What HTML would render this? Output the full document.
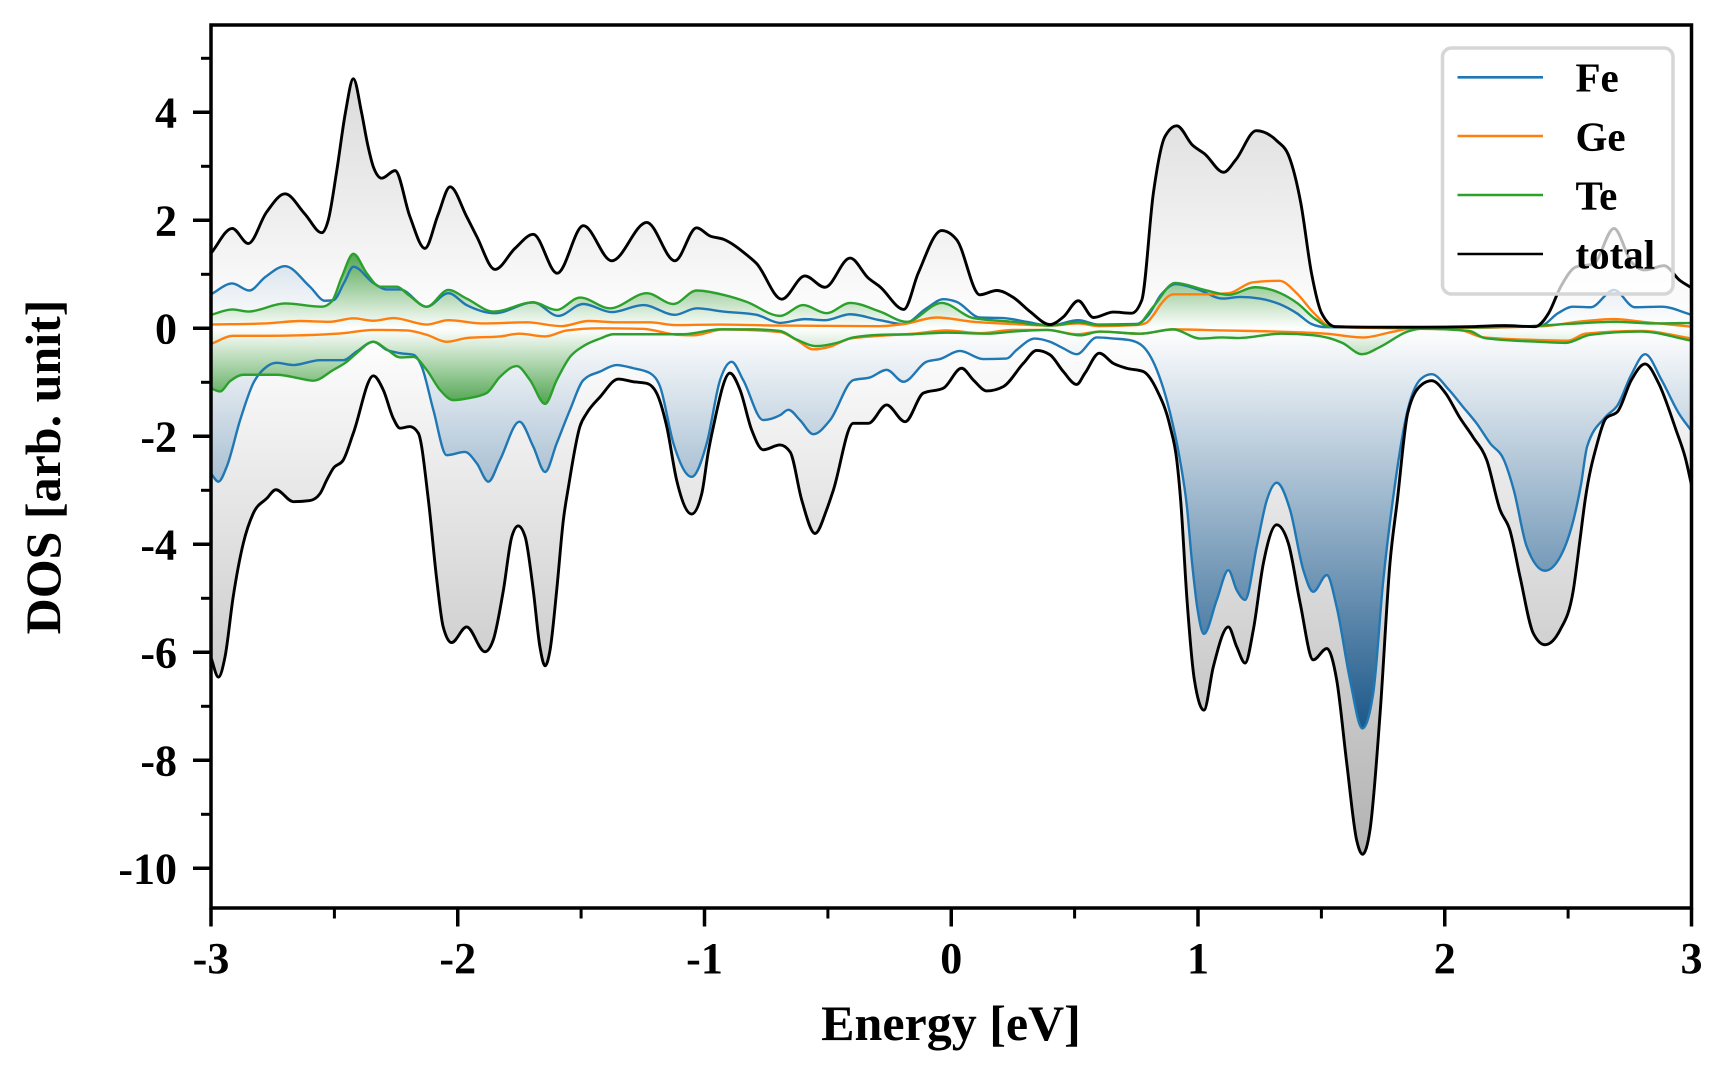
<!DOCTYPE html>
<html>
<head>
<meta charset="utf-8">
<style>
html,body{margin:0;padding:0;background:#fff;}
svg{display:block;}
text{font-family:"Liberation Serif","Times New Roman",serif;font-weight:bold;fill:#000;}
</style>
</head>
<body>
<svg xmlns="http://www.w3.org/2000/svg" width="1728" height="1080" viewBox="0 0 1728 1080">
<defs>
  <clipPath id="clip"><rect x="211" y="25" width="1480.5" height="883"/></clipPath>
  <linearGradient id="gGU" gradientUnits="userSpaceOnUse" x1="0" y1="0" x2="0" y2="10"><stop offset="0" stop-color="#ffffff"/><stop offset="1" stop-color="#b0b0b0"/></linearGradient>
  <linearGradient id="gGD" gradientUnits="userSpaceOnUse" x1="0" y1="0" x2="0" y2="-10"><stop offset="0" stop-color="#ffffff"/><stop offset="1" stop-color="#b0b0b0"/></linearGradient>
  <linearGradient id="gBU" gradientUnits="userSpaceOnUse" x1="0" y1="0" x2="0" y2="7.4"><stop offset="0" stop-color="#ffffff"/><stop offset="1" stop-color="rgb(28,88,138)"/></linearGradient>
  <linearGradient id="gBD" gradientUnits="userSpaceOnUse" x1="0" y1="0" x2="0" y2="-7.4"><stop offset="0" stop-color="#ffffff"/><stop offset="1" stop-color="rgb(28,88,138)"/></linearGradient>
  <linearGradient id="gTU" gradientUnits="userSpaceOnUse" x1="0" y1="0" x2="0" y2="1.4"><stop offset="0" stop-color="#ffffff"/><stop offset="1" stop-color="rgb(80,165,80)"/></linearGradient>
  <linearGradient id="gTD" gradientUnits="userSpaceOnUse" x1="0" y1="0" x2="0" y2="-1.4"><stop offset="0" stop-color="#ffffff"/><stop offset="1" stop-color="rgb(80,165,80)"/></linearGradient>

  <path id="TU" class="c" vector-effect="non-scaling-stroke" d="M0,0 L0,1.39 0.086,1.85 0.151,1.57 0.225,2.15 0.3,2.49 0.38,2.12 0.449,1.77 0.475,2.0 0.51,2.93 0.545,4.0 0.577,4.62 0.61,4.0 0.635,3.4 0.658,2.99 0.692,2.78 0.746,2.92 0.806,2.07 0.867,1.48 0.92,2.1 0.969,2.62 1.036,2.07 1.077,1.7 1.151,1.09 1.232,1.48 1.306,1.74 1.403,1.02 1.509,1.9 1.624,1.25 1.766,1.96 1.88,1.25 1.968,1.86 2.022,1.71 2.076,1.65 2.171,1.36 2.211,1.2 2.313,0.54 2.407,0.97 2.488,0.76 2.59,1.3 2.664,0.93 2.711,0.77 2.808,0.35 2.866,1.02 2.961,1.81 3.022,1.64 3.116,0.62 3.184,0.7 3.252,0.57 3.319,0.31 3.4,0.07 3.454,0.21 3.515,0.51 3.576,0.2 3.657,0.3 3.731,0.28 3.772,0.52 3.819,2.5 3.866,3.55 3.914,3.75 3.978,3.39 4.027,3.23 4.104,2.89 4.153,3.12 4.236,3.66 4.32,3.47 4.369,3.18 4.417,2.31 4.46,1.02 4.501,0.28 4.557,0.03 4.7,0.02 4.9,0.02 5.1,0.03 5.24,0.05 5.366,0.03 5.421,0.28 5.47,0.77 5.533,1.14 5.602,1.19 5.686,1.85 5.756,1.23 5.812,1.08 5.889,1.16 5.952,0.89 6,0.75 6,0"/>
  <path id="TD" class="c" vector-effect="non-scaling-stroke" d="M0,0 L0,-6.1 0.03,-6.46 0.057,-6.08 0.09,-4.97 0.131,-3.98 0.171,-3.43 0.226,-3.15 0.263,-2.99 0.334,-3.21 0.401,-3.19 0.442,-3.06 0.469,-2.81 0.496,-2.59 0.536,-2.44 0.577,-1.94 0.658,-0.88 0.698,-1.14 0.739,-1.67 0.766,-1.85 0.806,-1.82 0.84,-1.94 0.881,-3.18 0.915,-4.66 0.941,-5.53 0.975,-5.82 1.036,-5.53 1.11,-5.99 1.144,-5.77 1.185,-4.85 1.219,-3.86 1.245,-3.66 1.273,-3.86 1.306,-4.85 1.333,-5.9 1.354,-6.25 1.374,-5.96 1.401,-4.85 1.428,-3.55 1.45,-2.9 1.495,-1.82 1.523,-1.57 1.577,-1.27 1.651,-0.94 1.712,-0.99 1.766,-1.02 1.806,-1.2 1.847,-1.82 1.887,-2.81 1.948,-3.44 1.989,-3.06 2.015,-2.3 2.036,-1.82 2.103,-0.83 2.144,-1.14 2.191,-1.88 2.238,-2.25 2.306,-2.16 2.347,-2.29 2.394,-3.18 2.448,-3.8 2.495,-3.36 2.522,-3.0 2.603,-1.76 2.664,-1.76 2.738,-1.42 2.813,-1.73 2.887,-1.2 2.968,-1.11 3.042,-0.74 3.09,-0.96 3.144,-1.16 3.211,-1.08 3.292,-0.65 3.346,-0.41 3.4,-0.49 3.454,-0.8 3.508,-1.04 3.542,-0.83 3.6,-0.46 3.657,-0.65 3.711,-0.74 3.778,-0.8 3.833,-1.14 3.887,-1.82 3.914,-2.44 3.93,-3.2 3.955,-5.0 3.985,-6.5 4.024,-7.07 4.062,-6.27 4.123,-5.53 4.157,-5.9 4.191,-6.2 4.224,-5.59 4.265,-4.35 4.319,-3.64 4.366,-3.98 4.414,-5.09 4.467,-6.14 4.522,-5.93 4.562,-6.51 4.603,-8.06 4.643,-9.48 4.667,-9.74 4.697,-9.29 4.738,-7.13 4.778,-4.35 4.808,-3.18 4.85,-1.57 4.905,-1.05 4.947,-0.97 5.003,-1.2 5.059,-1.64 5.114,-2.01 5.17,-2.44 5.224,-3.36 5.264,-3.74 5.305,-4.6 5.359,-5.65 5.406,-5.86 5.467,-5.59 5.521,-4.85 5.548,-3.92 5.569,-3.18 5.618,-2.13 5.653,-1.67 5.701,-1.54 5.756,-0.96 5.812,-0.66 5.867,-1.02 5.937,-1.88 5.975,-2.4 6,-2.9 6,0"/>
  <path id="FU" class="c" vector-effect="non-scaling-stroke" d="M0,0 L0,0.63 0.086,0.83 0.155,0.7 0.22,0.95 0.3,1.15 0.401,0.77 0.462,0.51 0.496,0.52 0.54,0.85 0.577,1.14 0.658,0.84 0.712,0.72 0.766,0.72 0.874,0.4 0.962,0.65 1.036,0.43 1.151,0.28 1.306,0.48 1.407,0.23 1.509,0.45 1.624,0.3 1.752,0.43 1.88,0.25 1.968,0.37 2.076,0.31 2.211,0.25 2.306,0.1 2.407,0.17 2.488,0.15 2.59,0.26 2.711,0.15 2.806,0.08 2.9,0.37 2.968,0.54 3.022,0.49 3.116,0.2 3.211,0.19 3.306,0.12 3.4,0.05 3.515,0.15 3.596,0.07 3.752,0.08 3.8,0.25 3.85,0.62 3.91,0.82 4.0,0.72 4.1,0.55 4.17,0.58 4.25,0.55 4.33,0.45 4.4,0.28 4.46,0.08 4.52,0.02 4.8,0.01 5.1,0.01 5.39,0.05 5.459,0.28 5.52,0.4 5.591,0.39 5.686,0.71 5.77,0.39 5.879,0.4 6,0.25 6,0"/>
  <path id="FD" class="c" vector-effect="non-scaling-stroke" d="M0,0 L0,-2.69 0.03,-2.84 0.064,-2.56 0.118,-1.7 0.171,-1.02 0.226,-0.71 0.266,-0.64 0.334,-0.68 0.442,-0.59 0.536,-0.59 0.59,-0.43 0.658,-0.25 0.712,-0.4 0.766,-0.46 0.82,-0.49 0.854,-0.71 0.901,-1.51 0.955,-2.35 1.029,-2.29 1.077,-2.5 1.124,-2.84 1.171,-2.44 1.25,-1.73 1.306,-2.19 1.354,-2.66 1.401,-2.13 1.455,-1.51 1.509,-0.96 1.577,-0.8 1.644,-0.68 1.712,-0.74 1.779,-0.83 1.82,-1.08 1.874,-2.13 1.948,-2.75 2.009,-2.13 2.063,-0.96 2.11,-0.62 2.157,-0.96 2.238,-1.7 2.306,-1.61 2.34,-1.51 2.387,-1.7 2.441,-1.96 2.509,-1.7 2.603,-0.96 2.671,-0.91 2.738,-0.77 2.806,-0.99 2.9,-0.62 2.954,-0.57 3.035,-0.42 3.13,-0.57 3.224,-0.56 3.265,-0.4 3.339,-0.19 3.4,-0.25 3.454,-0.37 3.508,-0.48 3.59,-0.17 3.657,-0.19 3.725,-0.22 3.778,-0.34 3.833,-0.77 3.887,-1.57 3.927,-2.44 3.955,-3.3 3.975,-4.3 3.998,-5.2 4.024,-5.66 4.076,-5.03 4.123,-4.48 4.157,-4.85 4.191,-5.03 4.238,-4.04 4.279,-3.18 4.319,-2.86 4.373,-3.36 4.427,-4.48 4.467,-4.88 4.522,-4.57 4.562,-5.16 4.616,-6.51 4.666,-7.41 4.71,-6.76 4.751,-4.66 4.792,-3.1 4.85,-1.51 4.905,-0.93 4.947,-0.85 5.017,-1.14 5.073,-1.45 5.129,-1.76 5.184,-2.13 5.24,-2.44 5.28,-3.0 5.332,-4.04 5.406,-4.49 5.481,-4.11 5.528,-3.43 5.552,-2.9 5.577,-2.19 5.652,-1.64 5.701,-1.42 5.756,-0.86 5.812,-0.48 5.879,-0.96 5.948,-1.57 6,-1.9 6,0"/>
  <path id="GU" class="c" vector-effect="non-scaling-stroke" d="M0,0 L0,0.07 0.22,0.09 0.361,0.135 0.48,0.12 0.577,0.185 0.658,0.14 0.74,0.19 0.874,0.07 0.962,0.15 1.1,0.09 1.28,0.11 1.42,0.04 1.53,0.135 1.65,0.11 1.78,0.11 1.88,0.06 2.063,0.07 2.306,0.05 2.711,0.04 2.81,0.08 2.94,0.2 3.09,0.12 3.25,0.08 3.4,0.05 3.515,0.09 3.6,0.04 3.75,0.06 3.79,0.1 3.82,0.25 3.85,0.45 3.9,0.63 4.03,0.63 4.125,0.65 4.22,0.85 4.33,0.88 4.4,0.65 4.47,0.28 4.54,0.03 4.8,0.0 5.1,0.01 5.4,0.04 5.54,0.12 5.686,0.17 5.8,0.12 6,0.03 6,0"/>
  <path id="GD" class="c" vector-effect="non-scaling-stroke" d="M0,0 L0,-0.29 0.09,-0.14 0.226,-0.14 0.361,-0.13 0.536,-0.09 0.658,-0.03 0.793,-0.04 0.874,-0.12 0.955,-0.25 1.036,-0.18 1.171,-0.15 1.25,-0.1 1.354,-0.15 1.442,-0.04 1.577,0 1.75,-0.01 1.887,-0.12 1.955,-0.13 2.076,-0.02 2.306,-0.07 2.374,-0.22 2.441,-0.39 2.509,-0.34 2.59,-0.19 2.711,-0.14 2.846,-0.1 2.981,-0.04 3.116,-0.09 3.252,-0.03 3.387,-0.03 3.508,-0.11 3.603,-0.06 3.765,-0.1 3.9,-0.02 4.1,-0.04 4.38,-0.07 4.52,-0.1 4.669,-0.17 4.794,-0.06 4.86,-0.01 5.05,-0.02 5.16,-0.17 5.4,-0.22 5.5,-0.23 5.57,-0.1 5.8,-0.05 6,-0.19 6,0"/>
  <path id="EU" class="c" vector-effect="non-scaling-stroke" d="M0,0 L0,0.25 0.086,0.35 0.151,0.31 0.3,0.46 0.449,0.4 0.49,0.5 0.53,0.95 0.577,1.38 0.631,1.02 0.685,0.77 0.752,0.77 0.8,0.62 0.874,0.4 0.962,0.71 1.036,0.55 1.145,0.31 1.306,0.48 1.4,0.34 1.496,0.57 1.617,0.37 1.766,0.65 1.874,0.45 1.968,0.7 2.076,0.62 2.171,0.49 2.306,0.23 2.4,0.43 2.495,0.28 2.59,0.47 2.711,0.31 2.819,0.12 2.961,0.47 3.089,0.19 3.252,0.12 3.4,0.05 3.515,0.11 3.603,0.06 3.752,0.07 3.819,0.4 3.907,0.84 4.027,0.71 4.125,0.62 4.23,0.76 4.334,0.65 4.404,0.46 4.473,0.18 4.53,0.04 4.9,0.01 5.3,0.03 5.5,0.08 5.69,0.12 5.85,0.09 6,0.1 6,0"/>
  <path id="ED" class="c" vector-effect="non-scaling-stroke" d="M0,0 L0,-1.11 0.036,-1.17 0.077,-0.98 0.131,-0.86 0.266,-0.86 0.361,-0.93 0.415,-0.97 0.496,-0.77 0.55,-0.62 0.59,-0.46 0.658,-0.25 0.712,-0.39 0.766,-0.54 0.82,-0.53 0.874,-0.77 0.928,-1.14 0.982,-1.33 1.036,-1.3 1.117,-1.2 1.171,-0.9 1.239,-0.7 1.293,-0.96 1.354,-1.4 1.401,-0.96 1.455,-0.53 1.509,-0.33 1.577,-0.19 1.631,-0.11 1.779,-0.11 1.914,-0.11 2.063,-0.02 2.2,-0.02 2.306,-0.05 2.374,-0.21 2.455,-0.33 2.536,-0.27 2.603,-0.17 2.711,-0.12 2.846,-0.11 2.981,-0.08 3.144,-0.1 3.252,-0.06 3.387,-0.03 3.522,-0.13 3.603,-0.06 3.765,-0.1 3.9,-0.02 4.008,-0.19 4.1,-0.17 4.165,-0.18 4.336,-0.1 4.47,-0.13 4.585,-0.27 4.665,-0.48 4.74,-0.34 4.85,-0.06 4.905,-0.01 5.1,-0.05 5.161,-0.18 5.38,-0.25 5.49,-0.27 5.589,-0.12 5.795,-0.06 6,-0.23 6,0"/>
</defs>

<g clip-path="url(#clip)">
 <g transform="translate(211,328.3) scale(246.75,-54)">
  <use href="#TU" fill="url(#gGU)" stroke="none"/>
  <use href="#TD" fill="url(#gGD)" stroke="none"/>
  <use href="#FU" fill="url(#gBU)" stroke="none"/>
  <use href="#FD" fill="url(#gBD)" stroke="none"/>
  <use href="#EU" fill="url(#gTU)" stroke="none"/>
  <use href="#ED" fill="url(#gTD)" stroke="none"/>
  <use href="#FU" fill="none" stroke="#1f77b4" stroke-width="2.4" stroke-linejoin="round"/>
  <use href="#FD" fill="none" stroke="#1f77b4" stroke-width="2.4" stroke-linejoin="round"/>
  <use href="#GU" fill="none" stroke="#ff7f0e" stroke-width="2.4" stroke-linejoin="round"/>
  <use href="#GD" fill="none" stroke="#ff7f0e" stroke-width="2.4" stroke-linejoin="round"/>
  <use href="#EU" fill="none" stroke="#2ca02c" stroke-width="2.4" stroke-linejoin="round"/>
  <use href="#ED" fill="none" stroke="#2ca02c" stroke-width="2.4" stroke-linejoin="round"/>
  <use href="#TU" fill="none" stroke="#000" stroke-width="2.9" stroke-linejoin="round"/>
  <use href="#TD" fill="none" stroke="#000" stroke-width="2.9" stroke-linejoin="round"/>
 </g>
</g>

<g stroke="#000" stroke-width="3.5" fill="none">
  <line x1="211" y1="112.3" x2="193" y2="112.3"/>
  <line x1="211" y1="220.3" x2="193" y2="220.3"/>
  <line x1="211" y1="328.3" x2="193" y2="328.3"/>
  <line x1="211" y1="436.3" x2="193" y2="436.3"/>
  <line x1="211" y1="544.3" x2="193" y2="544.3"/>
  <line x1="211" y1="652.3" x2="193" y2="652.3"/>
  <line x1="211" y1="760.3" x2="193" y2="760.3"/>
  <line x1="211" y1="868.3" x2="193" y2="868.3"/>
  <line x1="211" y1="908" x2="211" y2="926.5"/>
  <line x1="457.75" y1="908" x2="457.75" y2="926.5"/>
  <line x1="704.5" y1="908" x2="704.5" y2="926.5"/>
  <line x1="951.25" y1="908" x2="951.25" y2="926.5"/>
  <line x1="1198" y1="908" x2="1198" y2="926.5"/>
  <line x1="1444.75" y1="908" x2="1444.75" y2="926.5"/>
  <line x1="1691.5" y1="908" x2="1691.5" y2="926.5"/>
</g>
<g stroke="#000" stroke-width="3" fill="none">
  <line x1="211" y1="58.3" x2="201" y2="58.3"/>
  <line x1="211" y1="166.3" x2="201" y2="166.3"/>
  <line x1="211" y1="274.3" x2="201" y2="274.3"/>
  <line x1="211" y1="382.3" x2="201" y2="382.3"/>
  <line x1="211" y1="490.3" x2="201" y2="490.3"/>
  <line x1="211" y1="598.3" x2="201" y2="598.3"/>
  <line x1="211" y1="706.3" x2="201" y2="706.3"/>
  <line x1="211" y1="814.3" x2="201" y2="814.3"/>
  <line x1="334.4" y1="908" x2="334.4" y2="918.5"/>
  <line x1="581.1" y1="908" x2="581.1" y2="918.5"/>
  <line x1="827.9" y1="908" x2="827.9" y2="918.5"/>
  <line x1="1074.6" y1="908" x2="1074.6" y2="918.5"/>
  <line x1="1321.4" y1="908" x2="1321.4" y2="918.5"/>
  <line x1="1568.1" y1="908" x2="1568.1" y2="918.5"/>
</g>

<rect x="211" y="25" width="1480.5" height="883" fill="none" stroke="#000" stroke-width="3.5"/>

<g font-size="44" text-anchor="end">
  <text x="177" y="127.5">4</text>
  <text x="177" y="235.5">2</text>
  <text x="177" y="343.5">0</text>
  <text x="177" y="451.5">-2</text>
  <text x="177" y="559.5">-4</text>
  <text x="177" y="667.5">-6</text>
  <text x="177" y="775.5">-8</text>
  <text x="177" y="883.5">-10</text>
</g>
<g font-size="44" text-anchor="middle">
  <text x="211" y="973">-3</text>
  <text x="457.75" y="973">-2</text>
  <text x="704.5" y="973">-1</text>
  <text x="951.25" y="973">0</text>
  <text x="1198" y="973">1</text>
  <text x="1444.75" y="973">2</text>
  <text x="1691.5" y="973">3</text>
</g>
<text x="951" y="1040" font-size="50" text-anchor="middle">Energy [eV]</text>
<text transform="translate(60,467) rotate(-90)" font-size="50" text-anchor="middle">DOS [arb. unit]</text>

<rect x="1442.5" y="48" width="230.5" height="246" rx="9" ry="9" fill="#ffffff" fill-opacity="0.72" stroke="#d6d6d6" stroke-width="3.5"/>
<g stroke-width="2.6">
  <line x1="1457.5" y1="77.3" x2="1543" y2="77.3" stroke="#1f77b4"/>
  <line x1="1457.5" y1="136" x2="1543" y2="136" stroke="#ff7f0e"/>
  <line x1="1457.5" y1="195" x2="1543" y2="195" stroke="#2ca02c"/>
  <line x1="1457.5" y1="254" x2="1543" y2="254" stroke="#000"/>
</g>
<g font-size="41">
  <text x="1575.5" y="91.5">Fe</text>
  <text x="1575.5" y="150.5">Ge</text>
  <text x="1575.5" y="209.5">Te</text>
  <text x="1575.5" y="268.5">total</text>
</g>
</svg>
<script>
(function(){
  var paths = document.querySelectorAll('path.c');
  for (var k = 0; k < paths.length; k++) {
    var p = paths[k];
    var n = p.getAttribute('d').match(/-?\d*\.?\d+/g).map(Number);
    var P = [];
    for (var i = 0; i + 1 < n.length; i += 2) P.push([n[i], n[i+1]]);
    var Q = P.slice(1, P.length - 1);
    var m = Q.length, h = [], s = [], t = [];
    for (i = 0; i < m - 1; i++) {
      h[i] = Q[i+1][0] - Q[i][0];
      if (h[i] <= 0) h[i] = 1e-6;
      s[i] = (Q[i+1][1] - Q[i][1]) / h[i];
    }
    t[0] = s[0]; t[m-1] = s[m-2];
    for (i = 1; i < m - 1; i++) {
      var a = s[i-1], b = s[i];
      if (a * b <= 0) { t[i] = 0; }
      else {
        var pp = (a * h[i] + b * h[i-1]) / (h[i-1] + h[i]);
        t[i] = (Math.sign(a) + Math.sign(b)) * Math.min(Math.abs(a), Math.abs(b), 0.5 * Math.abs(pp));
      }
    }
    var d = 'M' + P[0][0] + ',' + P[0][1] + 'L' + Q[0][0] + ',' + Q[0][1];
    for (i = 0; i < m - 1; i++) {
      var x0 = Q[i][0], y0 = Q[i][1], x1 = Q[i+1][0], y1 = Q[i+1][1], hh = h[i] / 3;
      d += 'C' + (x0 + hh).toFixed(4) + ',' + (y0 + t[i] * hh).toFixed(4) + ' ' +
           (x1 - hh).toFixed(4) + ',' + (y1 - t[i+1] * hh).toFixed(4) + ' ' + x1 + ',' + y1;
    }
    d += 'L' + P[P.length-1][0] + ',' + P[P.length-1][1];
    p.setAttribute('d', d);
  }
})();
</script>
</body>
</html>
